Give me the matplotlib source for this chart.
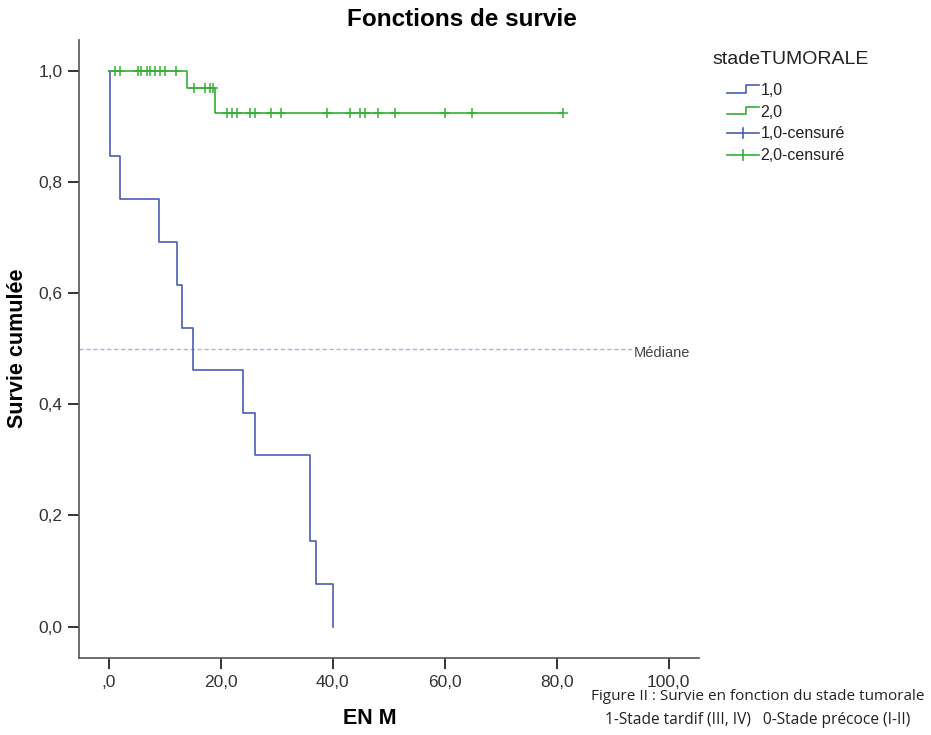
import numpy as np
import matplotlib
matplotlib.use("Agg")
import matplotlib.pyplot as plt
from matplotlib.lines import Line2D
from matplotlib.legend_handler import HandlerBase

plt.rcParams['font.family'] = ['Liberation Sans', 'DejaVu Sans']

# ---- data ----
blue_times = [0, 0.2, 2.0, 8.9, 12.1, 13.0, 15.0, 24.0, 26.0, 35.9, 37.0, 40.0]
blue_surv = [1.0, 0.846, 0.769, 0.692, 0.615, 0.538, 0.462, 0.385, 0.308, 0.154, 0.077, 0.0]

green_times = [0, 14.0, 19.0, 81.1]
green_surv = [1.0, 0.969, 0.923, 0.923]
green_censored = [1.0, 2.0, 5.1, 5.8, 6.7, 7.4, 8.3, 9.1, 10.0, 12.0,
                  15.1, 17.1, 18.0, 18.6,
                  21.0, 21.9, 22.8, 25.2, 26.1, 29.0, 30.8, 38.9, 43.0,
                  44.8, 45.7, 48.1, 51.1, 60.0, 64.9, 81.1]

xticks = [0, 20, 40, 60, 80, 100]
xticklabels = [',0', '20,0', '40,0', '60,0', '80,0', '100,0']
yticks = [0, 0.2, 0.4, 0.6, 0.8, 1.0]
yticklabels = ['0,0', '0,2', '0,4', '0,6', '0,8', '1,0']
median_value = 0.5

BLUE = '#4a5db3'
GREEN = '#35b035'


def step_value(times, surv, t):
    idx = np.searchsorted(np.asarray(times), t, side='right') - 1
    return np.asarray(surv)[idx]


fig = plt.figure(figsize=(9.31, 7.35), dpi=100)
ax = fig.add_axes([79 / 931, 1 - 658 / 735, (699 - 79) / 931, (658 - 40) / 735])

ax.set_xlim(-5.36, 105.4)
ax.set_ylim(-0.0563, 1.055)

ax.step(blue_times, blue_surv, where='post', color=BLUE, lw=1.2, zorder=3)
ax.step(green_times, green_surv, where='post', color=GREEN, lw=1.2, zorder=3)
cy = [step_value(green_times, green_surv, t) for t in green_censored]
ax.plot(green_censored, cy, ls='none', marker='+', ms=7.5, mew=1.1, color=GREEN, zorder=4)

# median line
ax.plot([-5.36, 93.5], [median_value, median_value], ls=(0, (3, 2)), color='#c9a3d6', lw=1.0, zorder=2)
ax.text(93.8, median_value - 0.008, 'Médiane', fontsize=10.5, color='#444444', va='center', ha='left')

for s in ['top', 'right']:
    ax.spines[s].set_visible(False)
for s in ['left', 'bottom']:
    ax.spines[s].set_color('#555555')
    ax.spines[s].set_linewidth(1.2)

ax.set_xticks(xticks)
ax.set_xticklabels(xticklabels)
ax.set_yticks(yticks)
ax.set_yticklabels(yticklabels)
ax.tick_params(axis='both', direction='out', length=8, width=1.4, color='#333333',
               labelsize=12.5, labelcolor='#333333', pad=4)

ax.set_xlabel('EN M', fontsize=15.5, fontweight='bold')
ax.xaxis.set_label_coords((370 - 79) / 620, (658 - 718) / 618)
ax.xaxis.label.set_va('center')
ax.set_ylabel('Survie cumulée', fontsize=15.5, fontweight='bold')
ax.yaxis.set_label_coords((18 - 79) / 620, (658 - 348) / 618)
ax.yaxis.label.set_va('center')

fig.text(462 / 931, 1 - 20 / 735, 'Fonctions de survie', fontsize=17.5, fontweight='bold',
         ha='center', va='center')


class HandlerStep(HandlerBase):
    def create_artists(self, legend, orig_handle, xdescent, ydescent, width, height, fontsize, trans):
        x = [0, width * 0.6, width * 0.6, width]
        y = [height * 0.2, height * 0.2, height * 0.85, height * 0.85]
        l = Line2D(x, y, color=orig_handle.get_color(), lw=1.2, transform=trans)
        return [l]


class HandlerCross(HandlerBase):
    def create_artists(self, legend, orig_handle, xdescent, ydescent, width, height, fontsize, trans):
        l1 = Line2D([0, width], [height * 0.5, height * 0.5], color=orig_handle.get_color(), lw=1.2, transform=trans)
        l2 = Line2D([width * 0.5, width * 0.5], [height * 0.05, height * 0.95], color=orig_handle.get_color(), lw=1.2, transform=trans)
        return [l1, l2]


h1 = Line2D([], [], color=BLUE)
h2 = Line2D([], [], color=GREEN)
h3 = Line2D([], [], color=BLUE)
h4 = Line2D([], [], color=GREEN)
step_handler = HandlerStep()
cross_handler = HandlerCross()
leg = fig.legend([h1, h2, h3, h4], ['1,0', '2,0', '1,0-censuré', '2,0-censuré'],
                 handler_map={h1: step_handler, h2: step_handler, h3: cross_handler, h4: cross_handler},
                 loc='upper left', bbox_to_anchor=(727 / 931, 1 - 83 / 735),
                 frameon=False, fontsize=11.5, handlelength=2.0,
                 handletextpad=0.1, labelspacing=0.42, borderaxespad=0, borderpad=0)
for t in leg.get_texts():
    t.set_color('#222222')
fig.text(712 / 931, 1 - 60 / 735, 'stadeTUMORALE', fontsize=14, color='#222222',
         ha='left', va='center')

fig.text(758 / 931, 1 - 697 / 735, 'Figure II : Survie en fonction du stade tumorale',
         fontsize=11, ha='center', va='center', family=['Open Sans', 'DejaVu Sans'], color='#222222')
fig.text(758 / 931, 1 - 720 / 735, '1-Stade tardif (III, IV)   0-Stade précoce (I-II)',
         fontsize=11.2, ha='center', va='center', family=['Open Sans', 'DejaVu Sans'], color='#222222')

fig.savefig('out.png', dpi=100, facecolor='white')
